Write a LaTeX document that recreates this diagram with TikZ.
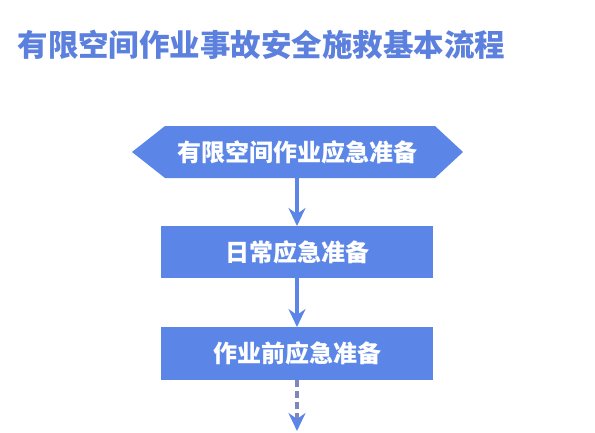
\documentclass[tikz,border=0pt]{standalone}
\usepackage{fontspec}
\newfontfamily\cjk{Noto Sans CJK SC}
\usepackage{tikz}
\usetikzlibrary{arrows.meta,backgrounds}

\definecolor{boxblue}{RGB}{91,134,232}
\definecolor{titleblue}{RGB}{92,128,222}
\definecolor{dashgray}{RGB}{125,135,185}

\tikzset{
  stepbox/.style={fill=boxblue, text=white, minimum width=272pt, minimum height=52pt,
    inner sep=0pt, outer sep=0pt, font=\cjk\bfseries\fontsize{24}{26}\selectfont},
  flowarrow/.style={draw=boxblue, line width=3.2pt, -{Stealth[length=18pt,width=17pt,inset=6pt]}}
}

\begin{document}
\begin{tikzpicture}[x=1pt, y=-1pt]
  \useasboundingbox (0,0) rectangle (595,432);
  \node[font=\cjk\bfseries\fontsize{30.5}{32}\selectfont, text=titleblue] (title) at (261.5,45) {有限空间作业事故安全施救基本流程};
  \node[stepbox, fill=none, minimum width=331pt] (start) at (297.5,152) {有限空间作业应急准备};
  \begin{scope}[on background layer]
    \fill[boxblue] (start.west) -- ([xshift=33pt]start.north west) -- ([xshift=-28pt]start.north east)
      -- (start.east) -- ([xshift=-28pt]start.south east) -- ([xshift=33pt]start.south west) -- cycle;
  \end{scope}
  \node[stepbox] (daily) at (297,252) {日常应急准备};
  \node[stepbox, minimum height=53pt] (prework) at (297,353.5) {作业前应急准备};
  \coordinate (next) at (297,431);
  \draw[flowarrow] (start.south -| daily.north) -- (daily.north);
  \draw[flowarrow] (daily.south) -- (prework.north);
  \draw[flowarrow, draw=dashgray, dash pattern=on 7pt off 4pt,
    -{Stealth[length=18pt,width=17pt,inset=6pt,color=boxblue]}] (prework.south) -- (next);
\end{tikzpicture}
\end{document}
